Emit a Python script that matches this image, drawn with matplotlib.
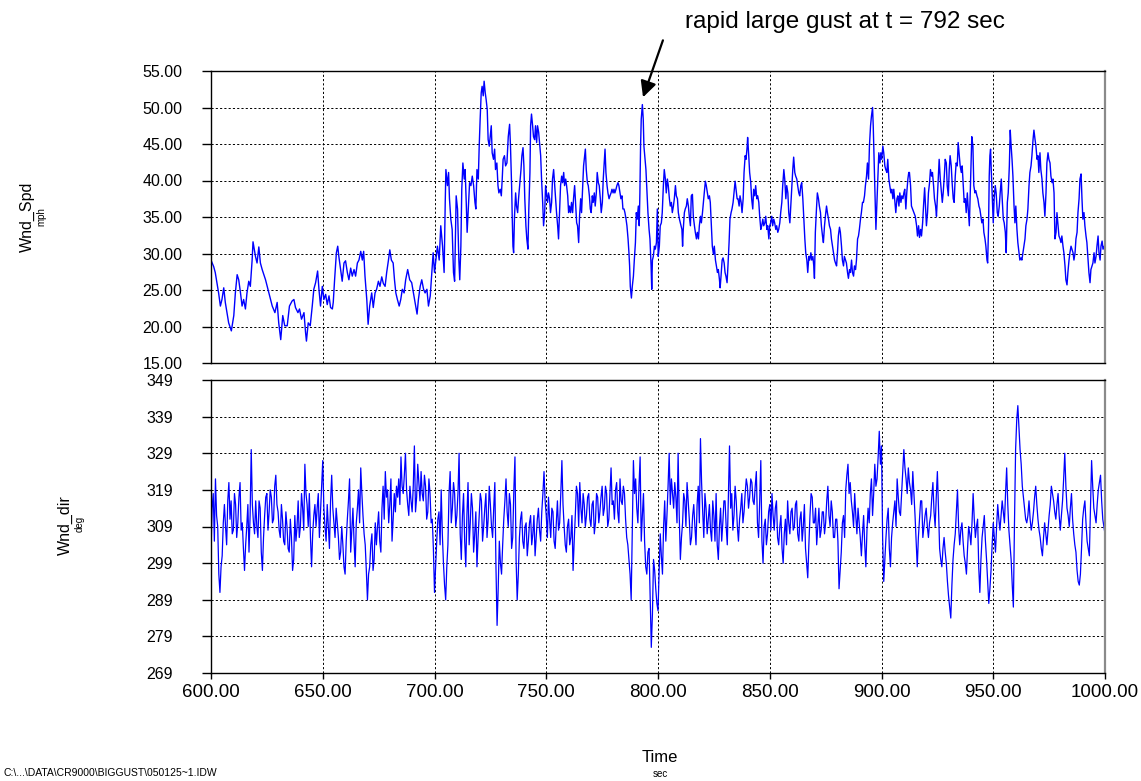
import matplotlib
matplotlib.use("Agg")
import matplotlib.pyplot as plt

plt.rcParams['font.family'] = ['Liberation Sans', 'DejaVu Sans']

# ---------------- data ----------------
spd_t = [600.0, 601.2, 601.9, 603.4, 604.2, 604.9, 605.7, 606.4, 607.9, 609.1,
         610.2, 610.9, 611.7, 612.4, 613.2, 613.9, 614.6, 615.4, 616.1, 616.9,
         617.6, 618.4, 618.8, 619.9, 620.6, 621.4, 622.1, 622.9, 624.4, 625.9,
         627.4, 628.6, 629.6, 630.3, 631.2, 632.1, 633.0, 634.1, 635.1, 636.3,
         637.1, 637.8, 638.9, 639.6, 640.5, 641.6, 642.3, 642.7, 643.5, 644.4,
         645.3, 646.0, 646.8, 647.7, 648.3, 649.0, 649.8, 650.5, 651.3, 652.0,
         652.8, 653.5, 654.3, 654.7, 655.3, 656.1, 656.7, 657.2, 658.0, 658.7,
         659.5, 660.2, 661.0, 661.7, 662.5, 663.2, 664.0, 664.7, 665.5, 666.2,
         667.0, 667.7, 668.3, 668.9, 669.7, 670.3, 671.0, 671.9, 672.6, 673.4,
         674.1, 674.9, 675.6, 676.4, 677.1, 677.9, 678.6, 679.4, 680.0, 680.7,
         681.5, 682.1, 682.7, 683.4, 684.2, 684.9, 685.6, 686.4, 687.1, 688.0,
         688.9, 689.8, 690.6, 691.3, 692.2, 692.8, 693.6, 694.3, 695.1, 695.8,
         696.6, 697.3, 698.1, 698.8, 699.4, 700.0, 700.6, 701.3, 702.1, 702.8,
         703.6, 704.3, 704.8, 705.1, 705.8, 706.3,
         706.7, 707.3, 707.9, 708.5, 709.0, 709.4, 709.7, 710.3, 710.9, 711.3,
         711.8, 712.2, 712.7, 713.3, 713.7, 714.2, 714.6, 715.1, 715.7, 716.3,
         716.9, 717.5, 718.1, 718.5, 719.0, 719.6, 720.0, 720.4, 720.9, 721.3,
         721.8, 722.2, 722.7, 723.1, 723.6, 724.0, 724.5, 724.9, 725.4, 725.8,
         726.4, 726.9, 727.3, 727.9, 728.4, 728.8, 729.4, 729.9, 730.3, 730.7,
         731.3, 731.8, 732.4, 733.0, 733.6, 734.0, 734.5, 734.8, 735.1, 735.4,
         735.8, 736.3, 736.7, 737.2, 737.6, 738.1, 738.7, 739.1, 739.6, 740.0,
         740.4, 740.9, 741.3, 741.8, 742.2, 742.7, 743.0, 743.4, 743.9, 744.3,
         744.8, 745.2, 745.7, 746.1, 746.6, 747.0, 747.5, 747.9, 748.4, 748.8,
         749.3, 749.7, 750.1, 750.6, 751.0, 751.5, 751.9, 752.4, 752.8, 753.3,
         753.7, 754.2, 754.6, 755.1, 755.5, 756.0, 756.4, 756.9, 757.3, 757.8,
         758.2, 758.7, 759.1, 759.6, 760.0, 760.4, 760.9, 761.3, 761.8, 762.2,
         762.7, 763.1, 763.6, 764.0, 764.5, 764.9, 765.4, 765.8, 766.3, 766.7,
         767.2, 767.5, 767.9, 768.4, 768.8, 769.3, 769.7, 770.1, 770.6, 771.0,
         771.5, 771.9, 772.4, 772.8, 773.3, 773.7, 774.2, 774.6, 775.1, 775.5,
         776.0, 776.3, 776.7, 777.2, 777.6, 778.1, 778.5, 779.0, 779.4, 779.9,
         780.3, 780.7, 781.2, 781.6, 782.1, 782.5, 783.0, 783.4, 783.9, 784.3,
         784.8, 785.2, 785.7, 786.1, 786.6, 787.0, 787.3, 787.6, 788.1, 788.5,
         789.0, 789.4, 789.9, 790.3, 790.7, 791.2, 791.6, 791.9, 792.2, 792.5,
         793.0, 793.4, 793.7, 794.2, 794.6, 795.1, 795.5, 796.0, 796.4, 796.9,
         797.2, 797.5, 797.9, 798.4, 798.8, 799.3, 799.7, 800.1, 800.6, 801.0,
         801.5, 801.9, 802.4, 802.8, 803.3, 803.7, 804.2, 804.6, 805.1, 805.5,
         806.0, 806.4, 806.9, 807.3, 807.8, 808.2, 808.7, 809.1, 809.6,
         810.3, 810.7, 811.0, 811.3, 811.8, 812.2, 812.7, 813.1, 813.6, 814.0,
         814.5, 814.9, 815.4, 815.8, 816.3, 816.7, 817.2, 817.6, 818.1, 818.5,
         819.0, 819.4, 819.9, 820.3, 820.7, 821.2, 821.6, 822.1, 822.5, 823.0,
         823.4, 823.9, 824.3, 824.8, 825.2, 825.7, 826.1, 826.6, 827.0, 827.5,
         827.8, 828.2, 828.7, 829.1, 829.6, 830.0, 830.4, 830.9, 831.3, 831.8,
         832.2, 832.7, 833.1, 833.6, 834.0, 834.5, 834.9, 835.4, 835.8, 836.3,
         836.7, 837.2, 837.6, 838.1, 838.5, 839.0, 839.4, 839.9, 840.1, 840.6,
         841.0, 841.5, 841.9, 842.4, 842.8, 843.3, 843.7, 844.2, 844.6, 845.1,
         845.5, 846.0, 846.4, 846.9, 847.3, 847.8, 848.2, 848.7, 849.1, 849.6,
         850.0, 850.4, 850.9, 851.3, 851.8, 852.2, 852.7, 853.1, 853.6, 854.0,
         854.5, 854.9, 855.4, 855.8, 856.3, 856.7, 857.2, 857.6, 858.1, 858.5,
         859.0, 859.4, 859.9, 860.3, 860.7, 861.2, 861.6, 862.1, 862.5, 863.0,
         863.4, 863.9, 864.3, 864.8, 865.2, 865.7, 866.1, 866.6, 867.0, 867.5,
         867.9, 868.4, 868.8, 869.3, 869.7, 870.0, 870.4, 870.9, 871.3, 871.8,
         872.2, 872.7, 873.1, 873.6, 874.0, 874.5, 874.9, 875.4, 875.8, 876.3,
         876.7, 877.2, 877.6, 878.1, 878.5, 879.0, 879.4, 879.9, 880.3, 880.7,
         881.2, 881.6, 882.1, 882.5, 883.0, 883.4, 883.9, 884.3, 884.8, 885.2,
         885.7, 886.1, 886.6, 887.0, 887.5, 887.9, 888.4, 888.8, 889.3, 889.7,
         890.1, 890.6, 891.0, 891.5, 891.9, 892.4, 892.8, 893.3, 893.7, 894.2,
         894.6, 895.1, 895.5, 896.0, 896.3, 896.7, 897.2, 897.5, 897.9, 898.4,
         898.8, 899.3, 899.7, 900.1, 900.6, 901.0, 901.5, 901.9, 902.4, 902.8,
         903.3, 903.7, 904.2, 904.6, 905.1, 905.5, 906.0, 906.4, 906.9, 907.3,
         907.8, 908.2, 908.7, 909.1, 909.6, 910.0, 910.4, 910.9, 911.3, 911.8,
         912.2, 912.5, 913.0, 913.4, 913.9, 914.5, 915.1, 915.7, 916.1, 916.6,
         917.0, 917.5, 917.9, 918.4, 918.8, 919.3, 919.7, 920.1, 920.6, 921.0,
         921.5, 921.9, 922.4, 922.8, 923.3, 923.7, 924.2, 924.6, 925.1, 925.5,
         925.8, 926.3, 926.7, 927.2, 927.6, 928.1, 928.5, 929.0, 929.4, 929.9,
         930.3, 930.7, 931.2, 931.6, 932.1, 932.5, 933.0, 933.4, 933.9, 934.3,
         934.8, 935.2, 935.7, 936.1, 936.6, 937.0, 937.5, 937.9, 938.4, 938.8,
         939.3, 939.7, 940.1, 940.4, 940.9, 941.3, 941.8, 942.2, 942.7, 943.1,
         943.6, 944.0, 944.5, 944.9, 945.4, 945.8, 946.3, 946.7, 947.2, 947.5,
         947.9, 948.2, 948.5, 948.8, 949.1, 949.6, 950.0, 950.4, 950.9, 951.3,
         951.8, 952.2, 952.7, 953.1, 953.6, 954.0, 954.5, 954.9, 955.4, 955.8,
         956.3, 956.7, 957.2, 957.6, 957.9, 958.4, 958.8, 959.3, 959.7, 960.1,
         960.6, 961.0, 961.5, 961.9, 962.4, 962.8, 963.3, 963.7, 964.2, 964.6,
         965.1, 965.5, 966.0, 966.4, 966.9, 967.3, 967.8, 968.2, 968.7, 969.1,
         969.6, 970.0, 970.4, 970.9, 971.3, 971.8, 972.2, 972.7, 973.1, 973.6,
         974.0, 974.5, 974.9, 975.4, 975.8, 976.3, 976.7, 977.2, 977.6, 978.1,
         978.5, 979.0, 979.4, 979.9, 980.3, 980.7, 981.2, 981.6, 982.1, 982.5,
         983.0, 983.4, 983.9, 984.3, 984.8, 985.2, 985.7, 986.1, 986.6, 987.0,
         987.5, 987.9, 988.4, 988.8, 989.3, 989.7, 990.1, 990.6, 991.0, 991.5,
         991.9, 992.4, 992.8, 993.3, 993.7, 994.2, 994.6, 995.1, 995.5, 996.0,
         996.4, 996.9, 997.3, 997.8, 998.2, 998.7, 999.1, 999.6, 1000.0]

spd_v = [29.1, 28.2, 27.4, 24.6, 22.8, 23.7, 25.3, 23.3, 20.5, 19.4,
         21.5, 24.6, 27.1, 26.4, 24.6, 22.8, 23.7, 22.4, 24.6, 26.2,
         25.5, 29.1, 31.6, 29.6, 28.7, 30.9, 28.7, 27.8, 26.4, 24.6,
         22.8, 21.9, 23.3, 20.5, 18.2, 21.5, 20.1, 20.1, 22.8, 23.5,
         23.7, 22.6, 21.9, 22.4, 21.0, 21.9, 19.2, 18.0, 20.5, 20.1,
         22.8, 25.1, 26.0, 27.6, 25.1, 22.8, 25.5, 23.7, 24.4, 23.0,
         24.2, 22.6, 22.4, 23.3, 26.4, 30.1, 31.0, 29.6, 27.8, 26.2,
         28.7, 29.0, 27.4, 26.4, 28.0, 26.9, 27.8, 26.9, 28.7, 29.1,
         30.3, 29.1, 30.3, 26.9, 23.7, 20.3, 22.8, 24.6, 22.6, 24.6,
         25.1, 26.2, 25.5, 26.8, 25.9, 25.5, 27.4, 29.1, 30.5, 29.1,
         28.7, 26.4, 24.6, 23.7, 22.8, 23.7, 25.1, 24.6, 26.4, 27.8,
         26.4, 26.0, 24.6, 23.3, 21.7, 23.7, 25.5, 26.4, 25.1, 24.6,
         25.1, 22.8, 24.2, 27.4, 30.1, 27.4, 29.1, 31.0, 29.1, 33.8,
         31.0, 27.4, 37.0, 41.5, 39.3, 41.1,
         37.5, 34.7, 33.3, 27.4, 26.2, 32.9, 37.9, 36.1, 29.1, 26.4,
         31.0, 38.8, 42.4, 40.2, 41.5, 37.0, 32.9, 36.1, 39.7, 39.3,
         40.6, 39.3, 37.0, 36.1, 41.5, 40.2, 44.7, 48.2, 52.0, 52.9,
         51.6, 53.6, 52.0, 51.1, 49.7, 45.6, 44.7, 46.0, 47.5, 43.8,
         42.9, 44.3, 41.5, 42.4, 39.3, 38.3, 38.8, 37.9, 40.2, 42.9,
         43.4, 42.0, 42.4, 46.0, 47.7, 44.7, 39.3, 34.7, 31.0, 30.1,
         35.1, 38.3, 36.5, 35.6, 37.5, 39.3, 41.5, 43.4, 44.5, 42.0,
         37.5, 33.8, 32.0, 30.6, 36.1, 41.1, 47.5, 49.1, 47.5, 46.0,
         45.6, 47.5, 45.2, 47.5, 46.6, 45.2, 43.4, 40.2, 37.0, 33.8,
         35.6, 39.3, 38.3, 37.0, 38.3, 37.5, 35.6, 37.0, 40.2, 41.5,
         39.7, 37.5, 35.6, 33.8, 32.0, 36.1, 39.3, 40.6, 39.7, 41.1,
         39.3, 40.2, 39.3, 37.9, 35.6, 36.5, 35.6, 37.0, 35.6, 37.5,
         39.3, 37.0, 34.2, 33.8, 31.5, 35.1, 37.5, 35.6, 39.3, 42.0,
         43.4, 44.3, 41.5, 39.7, 39.3, 37.9, 36.1, 35.6, 37.9, 37.0,
         38.3, 36.5, 38.3, 41.1, 39.7, 39.3, 37.5, 35.6, 37.0, 40.2,
         42.9, 44.3, 41.1, 39.3, 38.3, 37.5, 37.9, 38.3, 38.8, 38.3,
         38.8, 38.3, 38.8, 39.3, 39.7, 39.3, 38.3, 37.5, 37.9, 36.1,
         36.1, 35.6, 34.7, 33.8, 32.0, 30.1, 28.3, 25.5, 23.9, 25.5,
         26.9, 29.1, 31.5, 35.6, 34.7, 36.5, 33.8, 38.3, 44.7, 48.4,
         50.4, 48.4, 44.7, 42.9, 41.5, 38.3, 35.6, 33.3, 32.0, 28.3,
         25.1, 29.1, 29.6, 31.0, 30.6, 31.5, 36.1, 29.6, 31.0, 33.8,
         34.2, 35.6, 39.3, 41.5, 40.2, 38.3, 40.2, 39.3, 37.5, 36.5,
         37.0, 35.6, 36.5, 37.5, 39.3, 37.9, 37.5, 35.6, 34.7,
         33.8, 33.3, 31.0, 33.3, 35.6, 36.1, 36.5, 37.5, 36.5, 35.1,
         33.8, 37.9, 38.1, 35.1, 33.8, 32.9, 32.0, 32.9, 32.0, 33.8,
         35.1, 34.2, 35.6, 37.0, 38.3, 39.9, 39.3, 38.3, 37.5, 37.9,
         37.0, 33.8, 31.0, 29.9, 31.0, 29.1, 28.3, 27.4, 27.8, 26.4,
         25.3, 26.9, 29.1, 29.4, 28.7, 27.4, 26.9, 26.0, 28.3, 31.5,
         34.7, 35.6, 36.1, 37.0, 38.3, 39.9, 38.8, 37.5, 37.5, 36.5,
         37.9, 37.0, 35.6, 37.5, 41.1, 43.4, 42.9, 44.7, 45.9, 43.4,
         41.1, 39.7, 37.5, 36.1, 38.8, 37.9, 39.3, 37.5, 37.9, 37.0,
         35.1, 33.3, 33.8, 34.7, 33.8, 34.2, 35.1, 33.3, 33.8, 32.0,
         33.8, 34.2, 35.1, 33.8, 34.7, 34.2, 33.3, 33.8, 32.9, 33.3,
         34.2, 35.6, 37.0, 39.3, 41.5, 40.2, 37.5, 39.3, 38.3, 35.6,
         34.2, 36.5, 39.3, 41.5, 43.2, 41.1, 40.6, 40.2, 39.3, 38.3,
         37.9, 39.3, 39.7, 37.5, 35.1, 32.0, 30.1, 29.1, 27.4, 29.6,
         29.1, 30.1, 29.1, 29.6, 28.3, 26.6, 32.9, 36.1, 38.3, 37.5,
         36.5, 35.6, 33.8, 32.4, 31.5, 33.8, 35.1, 36.5, 35.6, 34.7,
         33.8, 33.3, 32.0, 31.0, 30.1, 29.1, 28.7, 28.3, 30.1, 32.4,
         33.6, 32.9, 31.0, 29.1, 28.3, 29.6, 29.1, 28.7, 27.4, 26.6,
         27.8, 27.4, 29.1, 27.4, 26.9, 28.3, 27.8, 29.1, 32.0, 32.4,
         33.3, 34.7, 35.6, 37.0, 37.0, 37.9, 39.3, 40.6, 42.4, 40.2,
         44.7, 47.5, 48.8, 50.0, 47.5, 42.9, 37.5, 33.3, 36.5, 40.6,
         43.8, 42.4, 43.8, 42.9, 44.7, 43.8, 42.0, 41.5, 41.1, 42.9,
         40.2, 39.3, 38.3, 38.8, 37.5, 38.8, 37.0, 35.6, 37.5, 37.9,
         36.5, 38.3, 37.0, 37.9, 37.5, 38.3, 38.8, 36.1, 38.3, 40.2,
         41.1, 41.1, 39.3, 36.5, 36.1, 35.6, 35.1, 33.8, 32.4, 33.8,
         32.2, 33.3, 32.4, 34.2, 36.5, 39.0, 36.5, 33.8, 35.6, 38.3,
         39.7, 41.5, 40.6, 41.1, 39.3, 37.5, 36.5, 35.1, 38.3, 40.6,
         42.9, 40.2, 38.8, 37.0, 38.3, 40.6, 42.9, 42.4, 39.3, 37.9,
         41.5, 43.4, 42.0, 39.7, 37.5, 37.0, 40.6, 42.4, 42.0, 45.2,
         43.4, 42.0, 41.1, 42.0, 39.3, 37.0, 37.5, 35.6, 38.3, 36.1,
         33.8, 38.3, 42.4, 46.0, 44.7, 39.3, 38.3, 38.6, 37.9, 37.5,
         36.5, 36.1, 35.1, 34.2, 34.7, 32.9, 32.0, 31.0, 29.1, 28.7,
         33.8, 40.6, 43.4, 44.3, 41.5, 37.5, 34.2, 37.5, 39.3, 38.3,
         35.6, 35.1, 36.5, 38.3, 40.2, 37.5, 34.7, 34.2, 32.9, 30.1,
         37.0, 38.3, 42.0, 46.9, 45.2, 42.9, 40.6, 36.5, 34.2, 36.5,
         33.3, 31.5, 30.1, 29.1, 29.4, 29.1, 30.1, 31.0, 32.0, 33.8,
         34.7, 36.1, 39.3, 41.1, 42.0, 43.4, 45.6, 46.9, 45.6, 44.7,
         42.9, 43.4, 41.1, 43.8, 41.5, 40.2, 38.3, 37.0, 35.1, 38.3,
         42.4, 43.8, 42.9, 42.4, 40.6, 39.7, 40.2, 38.3, 32.0, 32.9,
         35.6, 33.8, 32.4, 32.0, 31.5, 32.4, 31.0, 30.1, 28.3, 26.4,
         25.7, 27.4, 29.1, 30.1, 31.0, 30.6, 30.1, 29.1, 30.1, 32.0,
         32.9, 35.6, 37.5, 40.2, 40.9, 37.5, 34.7, 35.6, 33.8, 32.4,
         31.5, 29.1, 27.4, 26.0, 27.8, 28.3, 28.7, 30.1, 28.7, 29.6,
         31.0, 32.4, 30.1, 29.1, 31.0, 31.7, 30.6, 31.0, 30.1]

# wind direction, read on whole seconds 600..1000
dir_whole = [302, 318, 322, 309, 291, 301, 315, 304, 321, 316,
             308, 315, 310, 321, 310, 297, 309, 302, 330, 310,
             316, 306, 314, 297, 312, 318, 313, 317, 311, 323,
             313, 306, 311, 304, 309, 302, 306, 300, 305, 316,
             309, 314, 326, 315, 318, 298, 312, 309, 318, 313,
             327, 309, 315, 303, 323, 310, 314, 306, 302, 304,
             296, 311, 322, 308, 305, 310, 319, 325, 312, 304,
             289, 298, 307, 300, 304, 313, 302, 320, 324, 319,
             315, 305, 318, 320, 322, 328, 318, 329, 315, 320,
             313, 331, 317, 321, 324, 316, 320, 313, 318, 311,
             291, 305, 313, 319, 299, 289, 304, 324, 314, 318,
             312, 329, 300, 318, 298, 321, 310, 314, 307, 298,
             312, 316, 309, 318, 311, 315, 306, 321, 282, 305,
             296, 311, 322, 309, 315, 306, 328, 289, 306, 313,
             303, 310, 305, 312, 307, 301, 311, 308, 313, 324,
             312, 317, 306, 313, 303, 316, 310, 327, 309, 302,
             311, 306, 297, 312, 318, 321, 310, 315, 312, 318,
             309, 316, 310, 317, 313, 320, 314, 318, 311, 325,
             316, 319, 313, 322, 315, 318, 306, 300, 289, 327,
             322, 310, 328, 312, 305, 296, 303, 276, 300, 292,
             286, 307, 296, 316, 312, 329, 322, 314, 317, 329,
             300, 310, 316, 321, 311, 306, 315, 304, 320, 333,
             313, 318, 307, 315, 305, 312, 318, 300, 314, 310,
             316, 304, 331, 318, 312, 316, 305, 314, 310, 318,
             320, 317, 321, 315, 324, 306, 327, 299, 311, 307,
             315, 318, 308, 316, 304, 312, 299, 311, 316, 307,
             314, 309, 316, 305, 313, 309, 303, 295, 312, 317,
             310, 304, 314, 308, 313, 310, 320, 309, 313, 306,
             311, 292, 302, 312, 319, 326, 321, 313, 318, 307,
             310, 301, 312, 298, 314, 318, 312, 326, 322, 335,
             331, 294, 306, 314, 298, 310, 316, 322, 313, 318,
             330, 322, 325, 319, 324, 312, 298, 311, 316, 309,
             314, 306, 312, 321, 309, 324, 303, 298, 306, 299,
             290, 284, 300, 307, 319, 304, 310, 301, 296, 309,
             304, 318, 306, 311, 291, 306, 312, 300, 288, 297,
             310, 302, 315, 308, 316, 310, 325, 308, 300, 287,
             330, 342, 330, 320, 314, 310, 316, 308, 313, 320,
             311, 306, 301, 310, 304, 312, 320, 316, 311, 318,
             308, 316, 329, 314, 309, 318, 307, 302, 294, 296,
             311, 316, 305, 301, 327, 314, 310, 319, 323, 311,
             307]
# wind direction, read on half seconds 600.5..999.5
dir_half = [314, 305, 312, 296, 298, 310, 309, 316, 311, 307,
            318, 306, 317, 308, 303, 304, 315, 312, 315, 307,
            309, 316, 302, 306, 317, 308, 319, 310, 320, 315,
            308, 315, 305, 313, 303, 311, 297, 312, 309, 306,
            318, 308, 318, 309, 306, 307, 315, 314, 306, 320,
            314, 305, 309, 316, 314, 306, 310, 300, 309, 298,
            305, 316, 302, 314, 298, 314, 310, 318, 307, 297,
            296, 304, 297, 310, 309, 305, 314, 311, 317, 310,
            322, 311, 313, 317, 315, 320, 323, 319, 312, 316,
            320, 313, 326, 316, 318, 323, 311, 322, 310, 303,
            298, 311, 304, 307, 293, 298, 318, 310, 321, 309,
            318, 307, 312, 305, 312, 304, 318, 302, 313, 306,
            318, 305, 314, 306, 320, 309, 314, 298, 292, 299,
            304, 316, 313, 318, 303, 319, 300, 296, 311, 305,
            309, 301, 310, 304, 312, 306, 314, 305, 318, 316,
            306, 311, 314, 305, 310, 308, 318, 315, 304, 309,
            304, 312, 305, 320, 309, 314, 318, 309, 317, 311,
            315, 307, 318, 310, 317, 312, 320, 309, 318, 315,
            311, 321, 310, 316, 320, 311, 304, 296, 308, 318,
            314, 320, 305, 318, 298, 302, 290, 285, 297, 288,
            297, 301, 309, 305, 320, 315, 318, 321, 310, 312,
            306, 318, 309, 316, 304, 312, 309, 315, 310, 321,
            306, 314, 311, 308, 316, 305, 304, 309, 305, 316,
            309, 318, 314, 308, 320, 309, 311, 318, 313, 322,
            314, 322, 316, 320, 310, 316, 305, 309, 304, 313,
            308, 312, 314, 306, 309, 303, 307, 304, 310, 313,
            308, 315, 307, 311, 305, 315, 299, 304, 318, 310,
            314, 309, 306, 313, 307, 316, 312, 316, 306, 311,
            305, 297, 310, 306, 323, 318, 316, 309, 312, 314,
            306, 307, 304, 308, 310, 322, 318, 320, 328, 326,
            306, 300, 311, 303, 306, 313, 309, 317, 312, 324,
            325, 318, 321, 315, 318, 305, 306, 316, 306, 312,
            309, 310, 317, 313, 317, 314, 300, 303, 302, 294,
            287, 293, 304, 313, 309, 308, 305, 299, 303, 307,
            310, 311, 309, 298, 300, 309, 305, 294, 292, 304,
            306, 309, 311, 312, 313, 318, 315, 304, 293, 310,
            338, 336, 326, 317, 311, 312, 311, 310, 317, 315,
            308, 303, 306, 307, 308, 315, 318, 313, 315, 312,
            312, 322, 320, 312, 314, 311, 304, 297, 293, 303,
            314, 310, 303, 314, 320, 312, 315, 321, 316, 309]

dir_t = []
dir_v = []
for i, v in enumerate(dir_whole):
    dir_t.append(600 + i)
    dir_v.append(v)
    if i < len(dir_half):
        dir_t.append(600.5 + i)
        dir_v.append(dir_half[i])

spd_ticks = [15, 20, 25, 30, 35, 40, 45, 50, 55]
dir_ticks = [269, 279, 289, 299, 309, 319, 329, 339, 349]
time_ticks = [600, 650, 700, 750, 800, 850, 900, 950, 1000]

# ---------------- figure ----------------
W, H = 1141, 781
fig = plt.figure(figsize=(W / 100, H / 100), dpi=100)
fig.patch.set_facecolor('white')

def px(x0, y0, x1, y1):
    return [x0 / W, 1 - y1 / H, (x1 - x0) / W, (y1 - y0) / H]

ax1 = fig.add_axes(px(211, 71, 1105, 363))
ax2 = fig.add_axes(px(211, 380, 1105, 673))

line_color = '#0000ff'
ax1.plot(spd_t, spd_v, color=line_color, lw=1.0)
ax2.plot(dir_t, dir_v, color=line_color, lw=0.9)

grid_kw = dict(color='black', linestyle=(0, (2.2, 2.2)), linewidth=0.7)
for ax in (ax1, ax2):
    ax.set_xlim(600, 1000)
    ax.set_xticks(time_ticks)
    ax.grid(True, **grid_kw)
    ax.set_axisbelow(True)
    for s in ('left', 'bottom', 'top'):
        ax.spines[s].set_color('black')
        ax.spines[s].set_linewidth(1.0)
    ax.spines['right'].set_color('#8a8a8a')
    ax.spines['right'].set_linewidth(1.6)

ax1.set_ylim(15, 55)
ax1.set_yticks(spd_ticks)
ax1.set_yticklabels([f"{v:.2f}" for v in spd_ticks])
ax1.tick_params(axis='y', direction='out', length=6.5, width=1, pad=14, labelsize=11.5)
ax1.tick_params(axis='x', length=0, labelbottom=False)

ax2.set_ylim(269, 349)
ax2.set_yticks(dir_ticks)
ax2.set_yticklabels([str(v) for v in dir_ticks])
ax2.tick_params(axis='y', direction='out', length=6.5, width=1, pad=21, labelsize=11.5)
ax2.set_xticklabels([f"{v:.2f}" for v in time_ticks])
ax2.tick_params(axis='x', direction='out', length=4, width=1, pad=4, labelsize=13.5)

# axis titles
fig.text(27 / W, 1 - 217 / H, "Wnd_Spd", rotation=90, ha='center', va='center', fontsize=11.5)
fig.text(41 / W, 1 - 217 / H, "mph", rotation=90, ha='center', va='center', fontsize=7)
fig.text(65 / W, 1 - 525 / H, "Wnd_dir", rotation=90, ha='center', va='center', fontsize=11.5)
fig.text(80 / W, 1 - 524 / H, "deg", rotation=90, ha='center', va='center', fontsize=7)
fig.text(660 / W, 1 - 757 / H, "Time", ha='center', va='center', fontsize=12)
fig.text(660 / W, 1 - 774 / H, "sec", ha='center', va='center', fontsize=7)
fig.text(3 / W, 1 - 773 / H, "C:\\...\\DATA\\CR9000\\BIGGUST\\050125~1.IDW",
         ha='left', va='center', fontsize=7.5)

# annotation
fig.text(685 / W, 1 - 22 / H, "rapid large gust at t = 792 sec",
         ha='left', va='center', fontsize=17.5)
ax1.annotate('', xy=(793.3, 51.4), xytext=(802.2, 59.2), xycoords='data',
             arrowprops=dict(arrowstyle='-|>', color='black', lw=1.6,
                             mutation_scale=24, shrinkA=0, shrinkB=0),
             annotation_clip=False)

fig.savefig('out.png', dpi=100, facecolor='white')
